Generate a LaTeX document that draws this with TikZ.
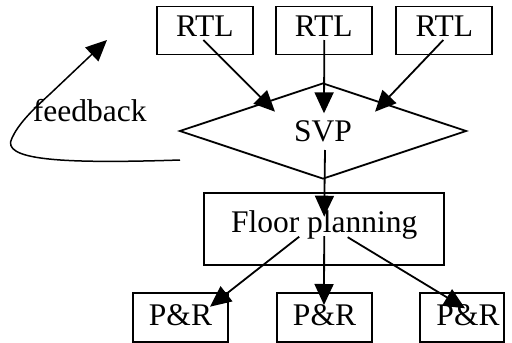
\documentclass[tikz,border=0pt]{standalone}
\usepackage{fontspec}
\setmainfont{Liberation Serif}
\usetikzlibrary{shapes.geometric,arrows.meta,calc}
\begin{document}
\begin{tikzpicture}[x=1pt,y=-1pt,
  font=\fontsize{31.5}{37}\selectfont,
  line width=1.8pt,
  box/.style={draw,rectangle,inner sep=0pt,text height=21pt},
  rtlbox/.style={box,minimum width=96pt,minimum height=48pt,text depth=9pt},
  prbox/.style={box,minimum height=48.4pt,text depth=6pt},
  flow/.style={-{Triangle[length=21pt,width=19pt]}},
]
\useasboundingbox (0,0) rectangle (512,343);

% RTL sources
\node[rtlbox] (rtlA) at (204.8,30.5) {RTL};
\node[rtlbox] (rtlB) at (323.7,30.5) {RTL};
\node[rtlbox] (rtlC) at (444.3,30.5) {RTL};

% SVP decision
\node[draw,diamond,inner sep=0pt,minimum width=287pt,minimum height=96pt,
      text height=21pt,text depth=0pt] (svp) at (323,131) {SVP};

% Floor planning
\node[box,minimum width=240pt,minimum height=72pt,text depth=14pt] (fp) at (324.2,229.2) {Floor planning};

% Place & route outputs
\node[prbox,minimum width=95.6pt] (prA) at (180.5,317.5) {P\&R};
\node[prbox,minimum width=95.6pt] (prB) at (324.5,317.5) {P\&R};
\node[prbox,minimum width=84pt] (prC) at (462,317.5) {\hspace{12pt}P\&R};

% RTL -> SVP
\draw[flow] ($(rtlA.center)+(-1.5,9.5)$) -- ($(svp.center)+(-48,-19.3)$);
\draw[flow] ($(rtlB.center)+(0.6,9.5)$) -- ($(svp.center)+(1,-17.7)$);
\draw[flow] ($(rtlC.center)+(-1,9.5)$) -- ($(svp.center)+(52,-19.3)$);

% SVP -> Floor planning
\draw[flow] ($(svp.center)+(2,19)$) -- ($(fp.center)+(0,-12.5)$);

% Floor planning -> P&R
\draw[flow] ($(fp.center)+(-25,7.5)$) -- ($(prA.center)+(29.5,-10.8)$);
\draw[flow] ($(fp.center)+(0,7)$) -- ($(prB.center)+(-0.5,-12.5)$);
\draw[flow] ($(fp.center)+(23.5,8)$) -- ($(prC.center)+(3,-9.2)$);

% feedback loop
\coordinate (fbStart) at (180,160);
\coordinate (fbEnd) at (107,40);
\draw[flow,line width=1.5pt] (fbStart) .. controls (60,164) and (0,160) .. (12,138)
  .. controls (18,125) and (30,112) .. (50,94) -- (fbEnd);
\node[anchor=base west,inner sep=0pt] (fb) at (32,121) {feedback};
\end{tikzpicture}
\end{document}
